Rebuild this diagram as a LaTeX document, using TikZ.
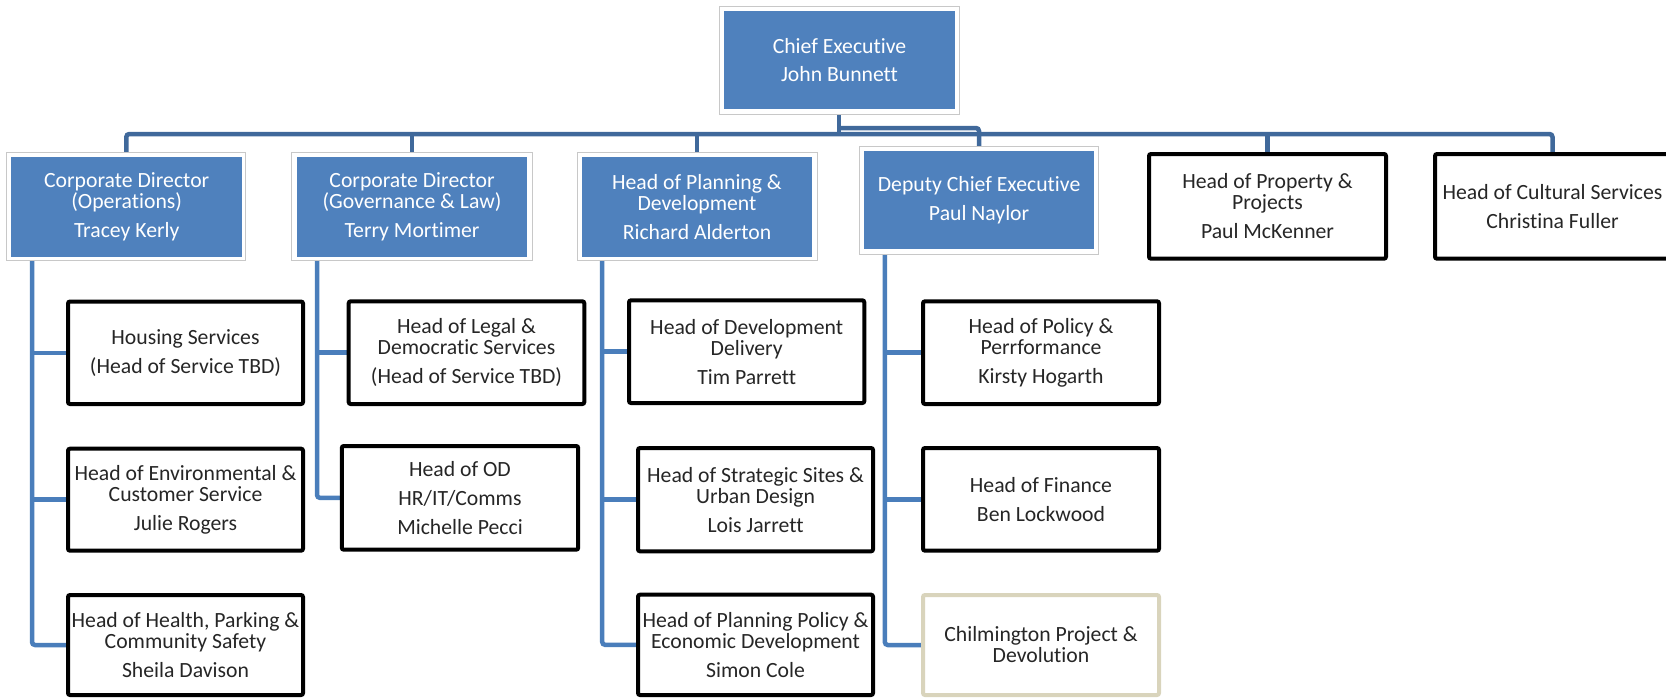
\documentclass[tikz,border=0pt]{standalone}
\usepackage{fontspec}
\setmainfont{Carlito}[Ligatures={NoCommon}]
\usetikzlibrary{backgrounds}
\definecolor{boxblue}{HTML}{4F81BD}
\definecolor{barblue}{HTML}{40699B}
\definecolor{spineblue}{HTML}{4A7EBB}
\definecolor{framegray}{HTML}{C8C8C8}
\definecolor{tanline}{HTML}{D9D4BC}
\newcommand\boxfont{\fontsize{21.7pt}{21pt}\selectfont}
\begin{document}
\begin{tikzpicture}[x=1pt,y=-1pt,
  framebox/.style={draw=framegray, line width=1pt, fill=white, inner sep=0pt, minimum width=239pt, minimum height=108pt},
  bluebox/.style={fill=boxblue, draw=none, text=white, align=center, inner sep=0pt, font=\boxfont, minimum width=230.5pt, minimum height=100pt},
  blackbox/.style={draw=black, line width=4pt, rounded corners=2pt, fill=white, align=center, inner sep=0pt, text=black!85, font=\boxfont, minimum width=235pt, minimum height=102.5pt},
  tanbox/.style={blackbox, draw=tanline},
  bar/.style={draw=barblue, line width=4.5pt, rounded corners=3pt},
  spine/.style={draw=spineblue, line width=4.5pt, rounded corners=3pt}]
\useasboundingbox (0,0) rectangle (1666,697);
\clip (0,0) rectangle (1666,697);

% top level
\node[framebox, minimum width=240pt] (cef) at (839,60) {};
\node[bluebox, minimum width=231pt, minimum height=98pt] (ce) at (839.5,60) {Chief Executive\\[7pt]John Bunnett};

\node[framebox] (cd1f) at (126.3,206.7) {};
\node[bluebox] (cd1) at (126.7,206.7) {Corporate Director\\(Operations)\\[8pt]Tracey Kerly};

\node[framebox, minimum width=240.4pt] (cd2f) at (411.8,206.7) {};
\node[bluebox] (cd2) at (412,206.7) {Corporate Director\\(Governance \& Law)\\[8pt]Terry Mortimer};

\node[framebox, minimum width=240pt] (hpf) at (697,206.7) {};
\node[bluebox] (hp) at (697,206.7) {Head of Planning \&\\Development\\[8pt]Richard Alderton};

\node[framebox, minimum height=107.3pt] (dcef) at (979,200.35) {};
\node[bluebox, minimum height=98.3pt] (dce) at (979.1,200.15) {Deputy Chief Executive\\[8pt]Paul Naylor};

\node[blackbox, minimum width=237pt, minimum height=104.7pt] (prop) at (1267.5,206.35) {Head of Property \&\\Projects\\[8pt]Paul McKenner};
\node[blackbox, minimum width=235pt, minimum height=104.7pt] (cult) at (1552.5,206.35) {Head of Cultural Services\\[8pt]Christina Fuller};

% column 1
\node[blackbox] (housing) at (185.5,352.75) {Housing Services\\[8pt](Head of Service TBD)};
\node[blackbox, minimum height=102pt] (env) at (185.5,499.7) {Head of Environmental \&\\Customer Service\\[8pt]Julie Rogers};
\node[blackbox, minimum height=100pt] (health) at (185.5,645) {Head of Health, Parking \&\\Community Safety\\[8pt]Sheila Davison};

% column 2
\node[blackbox, minimum width=235.6pt, minimum height=102.7pt] (legal) at (466.5,352.65) {Head of Legal \&\\Democratic Services\\[8pt](Head of Service TBD)};
\node[blackbox, minimum width=236.4pt, minimum height=103.7pt] (od) at (460,497.85) {Head of OD\\[8pt]HR/IT/Comms\\[8pt]Michelle Pecci};

% column 3
\node[blackbox, minimum width=235.3pt, minimum height=102.7pt] (dd) at (746.65,351.65) {Head of Development\\Delivery\\[8pt]Tim Parrett};
\node[blackbox, minimum height=103.3pt] (strat) at (755.5,499.65) {Head of Strategic Sites \&\\Urban Design\\[8pt]Lois Jarrett};
\node[blackbox, minimum height=100.3pt] (pp) at (755.5,644.85) {Head of Planning Policy \&\\Economic Development\\[8pt]Simon Cole};

% column 4
\node[blackbox, minimum width=236pt, minimum height=102.7pt] (polperf) at (1041,352.65) {Head of Policy \&\\Perrformance\\[8pt]Kirsty Hogarth};
\node[blackbox, minimum width=236pt, minimum height=102.7pt] (fin) at (1041,499.35) {Head of Finance\\[8pt]Ben Lockwood};
\node[tanbox, minimum width=236pt, minimum height=100pt] (chil) at (1041,645) {Chilmington Project \&\\Devolution};

% connectors
\coordinate (bus) at (0,134);
\coordinate (dcebus) at (0,128);
\coordinate (s1) at (32,260.7);
\coordinate (s2) at (317,260.7);
\coordinate (s3) at (602.2,260.7);
\coordinate (s4) at (884.8,254);

\begin{scope}[on background layer]
\draw[bar] (cef.south) -- (cef.south |- bus);
\draw[bar] (cd1f.north) -- (cd1f.north |- bus) -- (cult.north |- bus) -- (cult.north);
\draw[bar] (cd2f.north) -- (cd2f.north |- bus);
\draw[bar] (hpf.north) -- (hpf.north |- bus);
\draw[bar] (prop.north) -- (prop.north |- bus);
\draw[bar] (cef.south |- dcebus) -- (dcef.north |- dcebus) -- (dcef.north);

\draw[spine] (s1) |- (health.west);
\draw[spine] (s1 |- housing.west) -- (housing.west);
\draw[spine] (s1 |- env.west) -- (env.west);

\draw[spine] (s2) |- (od.west);
\draw[spine] (s2 |- legal.west) -- (legal.west);

\draw[spine] (s3) |- (pp.west);
\draw[spine] (s3 |- dd.west) -- (dd.west);
\draw[spine] (s3 |- strat.west) -- (strat.west);

\draw[spine] (s4) |- (chil.west);
\draw[spine] (s4 |- polperf.west) -- (polperf.west);
\draw[spine] (s4 |- fin.west) -- (fin.west);
\end{scope}
\end{tikzpicture}
\end{document}
